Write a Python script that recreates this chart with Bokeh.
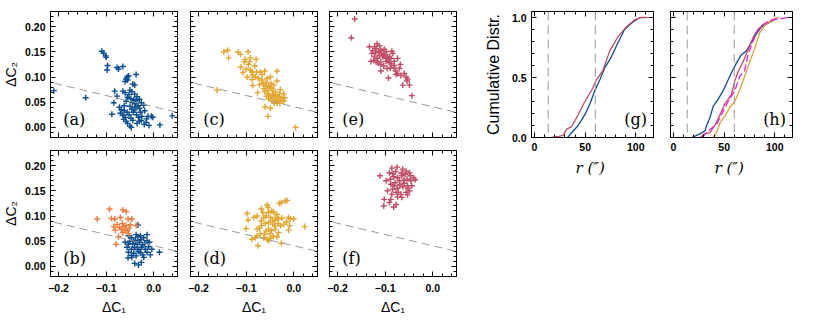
from bokeh.plotting import figure
from bokeh.models import (Range1d, LinearAxis, FixedTicker, CustomJSTickFormatter,
                          Slope, Span, Label)
from bokeh.layouts import row, column
from bokeh.embed import file_html
from bokeh.resources import INLINE

# ---------------- data ----------------
BLUE = "#0c4d8f"
GOLD = "#e2a52e"
PINK = "#c14d67"
ORANGE = "#f07b3b"
MAGENTA = "#ec1fe6"

a_x = [-0.210, -0.143, 0.013, 0.039,
       -0.109, -0.105, -0.101, -0.100, -0.097, -0.098, -0.077, -0.074, -0.065,
       -0.056, -0.053, -0.058, -0.060, -0.055, -0.037, -0.040, -0.044,
       -0.082, -0.077, -0.065, -0.060, -0.050, -0.046, -0.052, -0.040, -0.035, -0.055, -0.048, -0.042,
       -0.058, -0.045, -0.038, -0.084, -0.072, -0.062, -0.050, -0.040, -0.033, -0.021,
       -0.088, -0.070, -0.065, -0.060, -0.056, -0.052, -0.048, -0.043, -0.040, -0.036, -0.032, -0.028,
       -0.025, -0.019, -0.015, -0.012, -0.005, -0.002, -0.062, -0.068, -0.046, -0.030,
       -0.055, -0.050, -0.047, -0.035, -0.030, -0.020, -0.016, -0.010, -0.063, -0.058, -0.044, -0.026,
       -0.037, -0.030, -0.026]
a_y = [0.073, 0.059, 0.005, 0.023,
       0.151, 0.147, 0.142, 0.139, 0.123, 0.114, 0.119, 0.116, 0.121,
       0.100, 0.102, 0.096, 0.091, 0.094, 0.105, 0.084, 0.086,
       0.072, 0.062, 0.072, 0.069, 0.074, 0.071, 0.065, 0.066, 0.061, 0.060, 0.057, 0.055,
       0.052, 0.050, 0.047, 0.049, 0.040, 0.043, 0.042, 0.040, 0.043, 0.044,
       0.026, 0.028, 0.024, 0.020, 0.030, 0.025, 0.018, 0.030, 0.035, 0.025, 0.020, 0.030,
       0.022, 0.033, 0.017, 0.022, 0.022, 0.020, 0.033, 0.035, 0.036, 0.038,
       0.008, 0.003, 0.000, 0.008, 0.012, 0.006, 0.010, 0.004, 0.016, 0.012, 0.014, 0.014,
       0.053, 0.056, 0.049]

b_blue_x = [-0.033, -0.053, -0.046, -0.037, -0.033, -0.028, -0.021, -0.014, -0.060, -0.053, -0.042,
            -0.035, -0.030, -0.023, -0.014, -0.056, -0.047, -0.040, -0.033, -0.026, -0.018, -0.011,
            -0.004, 0.012, -0.053, -0.042, -0.032, -0.023, -0.014, -0.007, -0.054, -0.046, -0.040,
            -0.032, -0.026, -0.021, -0.037, -0.044, -0.038, -0.027, -0.050, -0.019, -0.009, -0.028, -0.047]
b_blue_y = [0.082, 0.061, 0.057, 0.063, 0.059, 0.061, 0.057, 0.063, 0.048, 0.044, 0.050,
            0.044, 0.048, 0.043, 0.051, 0.038, 0.034, 0.038, 0.034, 0.038, 0.034, 0.039,
            0.034, 0.028, 0.028, 0.026, 0.030, 0.023, 0.028, 0.023, 0.017, 0.018, 0.006,
            0.003, 0.008, 0.018, 0.021, 0.045, 0.052, 0.053, 0.050, 0.046, 0.048, 0.027, 0.022]
b_orange_x = [-0.119, -0.093, -0.065, -0.058, -0.089, -0.082, -0.070, -0.054, -0.046, -0.077, -0.072,
              -0.068, -0.063, -0.058, -0.049, -0.084, -0.081, -0.065, -0.056, -0.053, -0.074, -0.079,
              -0.037, -0.060, -0.066, -0.052]
b_orange_y = [0.094, 0.114, 0.112, 0.109, 0.095, 0.094, 0.097, 0.094, 0.094, 0.083, 0.077,
              0.074, 0.079, 0.081, 0.083, 0.079, 0.072, 0.067, 0.071, 0.065, 0.059, 0.044,
              0.081, 0.072, 0.085, 0.075]

c_x = [-0.161, 0.004, -0.147, -0.139, -0.137, -0.117, -0.112, -0.096, -0.102, -0.091, -0.093, -0.079,
       -0.111, -0.107, -0.091, -0.088, -0.098, -0.086, -0.081, -0.074, -0.061, -0.035, -0.067, -0.056,
       -0.049, -0.035, -0.086, -0.072, -0.060, -0.053, -0.063, -0.056, -0.046, -0.042, -0.076, -0.061,
       -0.053, -0.049, -0.044, -0.039, -0.032, -0.021, -0.019, -0.053, -0.046, -0.037, -0.028, -0.021,
       -0.060, -0.049, -0.035, -0.054, -0.065, -0.058, -0.043, -0.038, -0.030, -0.025, -0.041, -0.070,
       -0.082, -0.100, -0.048, -0.028, -0.050, -0.045, -0.034, -0.029, -0.057, -0.066, -0.078, -0.095,
       -0.104, -0.088]
c_y = [0.074, 0.000, 0.150, 0.153, 0.138, 0.149, 0.145, 0.150, 0.135, 0.138, 0.130, 0.135,
       0.120, 0.109, 0.114, 0.110, 0.100, 0.104, 0.100, 0.097, 0.112, 0.112, 0.094, 0.097,
       0.100, 0.092, 0.083, 0.085, 0.083, 0.081, 0.077, 0.074, 0.077, 0.084, 0.069, 0.071,
       0.067, 0.063, 0.065, 0.063, 0.061, 0.067, 0.059, 0.057, 0.054, 0.056, 0.054, 0.052,
       0.041, 0.038, 0.048, 0.022, 0.087, 0.089, 0.072, 0.070, 0.066, 0.058, 0.048, 0.110,
       0.122, 0.116, 0.087, 0.075, 0.079, 0.060, 0.052, 0.048, 0.062, 0.105, 0.110, 0.125,
       0.130, 0.095]

d_x = [-0.098, -0.096, -0.084, -0.077, -0.068, -0.065, -0.056, -0.054, -0.053, -0.046, -0.042, -0.037,
       -0.030, -0.026, -0.018, -0.014, -0.063, -0.058, -0.049, -0.039, -0.032, -0.025, -0.011, -0.007,
       0.000, -0.100, -0.077, -0.072, -0.068, -0.060, -0.053, -0.044, -0.033, -0.028, -0.021, -0.009,
       -0.011, 0.023, -0.077, -0.070, -0.061, -0.053, -0.047, -0.039, -0.032, -0.088, -0.081, -0.063,
       -0.056, -0.049, -0.035, -0.075, -0.053, -0.026, -0.045, -0.040, -0.050, -0.058, -0.035, -0.068,
       -0.015, -0.043]
d_y = [0.105, 0.092, 0.097, 0.100, 0.114, 0.107, 0.122, 0.117, 0.107, 0.110, 0.107, 0.097,
       0.125, 0.127, 0.130, 0.131, 0.097, 0.100, 0.097, 0.092, 0.094, 0.096, 0.097, 0.094,
       0.094, 0.075, 0.074, 0.076, 0.081, 0.085, 0.087, 0.084, 0.085, 0.081, 0.084, 0.081,
       0.072, 0.079, 0.061, 0.065, 0.064, 0.074, 0.071, 0.074, 0.067, 0.054, 0.057, 0.057,
       0.054, 0.056, 0.059, 0.041, 0.051, 0.046, 0.090, 0.080, 0.065, 0.070, 0.103, 0.090,
       0.088, 0.060]

e_x = [-0.164, -0.171, -0.133, -0.117, -0.119, -0.112, -0.109, -0.102, -0.098, -0.086, -0.084, -0.128,
       -0.123, -0.116, -0.105, -0.098, -0.091, -0.088, -0.130, -0.119, -0.109, -0.098, -0.081, -0.074,
       -0.124, -0.112, -0.103, -0.091, -0.081, -0.109, -0.096, -0.081, -0.070, -0.093, -0.077, -0.074,
       -0.060, -0.056, -0.053, -0.054, -0.063, -0.049, -0.044, -0.126, -0.120, -0.114, -0.107, -0.100,
       -0.094, -0.087, -0.110, -0.103, -0.095, -0.115, -0.122, -0.068, -0.078, -0.089, -0.067]
e_y = [0.215, 0.178, 0.160, 0.166, 0.156, 0.162, 0.153, 0.155, 0.150, 0.151, 0.147, 0.147,
       0.140, 0.137, 0.140, 0.137, 0.140, 0.137, 0.131, 0.130, 0.130, 0.131, 0.131, 0.137,
       0.133, 0.143, 0.143, 0.129, 0.123, 0.112, 0.117, 0.118, 0.117, 0.098, 0.105, 0.107,
       0.107, 0.100, 0.096, 0.092, 0.084, 0.084, 0.063, 0.152, 0.148, 0.150, 0.147, 0.144,
       0.133, 0.126, 0.125, 0.122, 0.140, 0.128, 0.160, 0.125, 0.112, 0.118, 0.103]

f_x = [-0.111, -0.086, -0.075, -0.063, -0.056, -0.049, -0.098, -0.089, -0.082, -0.074, -0.065, -0.058,
       -0.047, -0.040, -0.091, -0.084, -0.088, -0.079, -0.070, -0.061, -0.054, -0.046, -0.037, -0.095,
       -0.084, -0.074, -0.063, -0.053, -0.044, -0.086, -0.077, -0.067, -0.056, -0.049, -0.102, -0.088,
       -0.074, -0.065, -0.053, -0.103, -0.091, -0.082, -0.077, -0.069, -0.060, -0.081, -0.052, -0.072,
       -0.066, -0.078]
f_y = [0.180, 0.195, 0.197, 0.193, 0.189, 0.186, 0.170, 0.173, 0.178, 0.176, 0.180, 0.183,
       0.180, 0.176, 0.186, 0.184, 0.163, 0.166, 0.170, 0.171, 0.173, 0.170, 0.172, 0.150,
       0.153, 0.155, 0.158, 0.160, 0.160, 0.143, 0.147, 0.143, 0.147, 0.150, 0.133, 0.133,
       0.138, 0.137, 0.142, 0.120, 0.127, 0.118, 0.123, 0.162, 0.165, 0.160, 0.155, 0.147,
       0.185, 0.188]

# dividing line in the colour-colour planes
DIVIDER_GRADIENT = -0.223
DIVIDER_INTERCEPT = 0.041

# cumulative radial distributions
g_red_r = [17, 24, 28.4, 31.7, 36.6, 43.1, 49.7, 56.2, 61.1, 67.6, 74.2, 82.4, 90.5, 98.7, 105.2, 111.8]
g_red_f = [0, 0.01, 0.02, 0.07, 0.09, 0.19, 0.30, 0.39, 0.48, 0.56, 0.72, 0.84, 0.92, 0.98, 1.0, 1.0]
g_blue_r = [32.7, 36.6, 43.1, 49.7, 54.6, 59.5, 64.4, 69.3, 75.8, 82.4, 88.9, 95.4, 102, 105]
g_blue_f = [0, 0.04, 0.10, 0.19, 0.28, 0.39, 0.48, 0.58, 0.67, 0.79, 0.90, 0.95, 0.99, 1.0]

h_blue_r = [18, 26.1, 31, 32.7, 35.9, 39.2, 44.1, 49, 52.3, 57.2, 62.1, 67, 71.9, 75.2, 80.1, 86.6, 94.8, 101]
h_blue_f = [0, 0.03, 0.055, 0.10, 0.165, 0.26, 0.32, 0.39, 0.45, 0.54, 0.62, 0.69, 0.72, 0.77, 0.84, 0.92, 0.96, 0.99]
h_red_r = [26.1, 31, 35.9, 40.8, 45.8, 50.7, 57.2, 60.5, 63.7, 68.6, 73.5, 78.4, 81.7, 88.2, 94.8, 101]
h_red_f = [0, 0.03, 0.04, 0.10, 0.19, 0.28, 0.36, 0.47, 0.55, 0.63, 0.73, 0.83, 0.88, 0.94, 0.96, 0.99]
h_gold_r = [39.2, 42.5, 45.8, 50.7, 55.6, 60.5, 65.4, 70.3, 75.2, 80.1, 85, 91.5, 99.7, 104]
h_gold_f = [0, 0.04, 0.12, 0.18, 0.25, 0.30, 0.40, 0.51, 0.63, 0.74, 0.87, 0.95, 0.99, 1.0]
h_mag_r = [27.8, 34.3, 42.5, 49, 53.9, 60.5, 65.4, 70.3, 73.5, 78.4, 83.3, 89.9, 96.4, 112.7]
h_mag_f = [0, 0.055, 0.11, 0.22, 0.30, 0.39, 0.51, 0.56, 0.69, 0.80, 0.90, 0.95, 0.98, 1.0]

CORE_RADII = [13.5, 60.0]

SC_X_TICKS = [-0.2, -0.1, 0.0]
SC_X_MINOR = [-0.22, -0.20, -0.18, -0.16, -0.14, -0.12, -0.10, -0.08, -0.06, -0.04, -0.02, 0.0, 0.02, 0.04]
SC_Y_TICKS = [0.0, 0.05, 0.10, 0.15, 0.20]
SC_Y_MINOR = [-0.01, 0.0, 0.01, 0.02, 0.03, 0.04, 0.05, 0.06, 0.07, 0.08, 0.09, 0.10, 0.11, 0.12,
              0.13, 0.14, 0.15, 0.16, 0.17, 0.18, 0.19, 0.20, 0.21, 0.22]
CD_X_TICKS = [0, 50, 100]
CD_X_MINOR = [0, 10, 20, 30, 40, 50, 60, 70, 80, 90, 100, 110]
CD_Y_TICKS = [0.0, 0.5, 1.0]
CD_Y_MINOR = [0.0, 0.1, 0.2, 0.3, 0.4, 0.5, 0.6, 0.7, 0.8, 0.9, 1.0]

# ---------------- styling helpers ----------------
TICK_FONT = "Liberation Sans"
LABEL_FONT = "Liberation Sans"
SERIF = "DejaVu Serif"

FMT_1 = CustomJSTickFormatter(code="return tick.toFixed(1).replace('-', '\u2212');")
FMT_2 = CustomJSTickFormatter(code="return tick.toFixed(2).replace('-', '\u2212');")
FMT_0 = CustomJSTickFormatter(code="return tick.toFixed(0);")
FMT_NONE = CustomJSTickFormatter(code="return '';")


def add_axis(p, side, ticks, minor, fmt, label=None, label_font_style="normal",
             label_font=LABEL_FONT, label_size="14px", label_standoff=3, tick_standoff=5):
    ax = LinearAxis(ticker=FixedTicker(ticks=ticks, minor_ticks=minor), formatter=fmt or FMT_NONE)
    ax.major_tick_in = 5
    ax.major_tick_out = 0
    ax.minor_tick_in = 3
    ax.minor_tick_out = 0
    ax.axis_line_color = "black"
    ax.axis_line_width = 1
    ax.major_tick_line_color = "black"
    ax.minor_tick_line_color = "black"
    ax.major_label_text_font = TICK_FONT
    ax.major_label_text_font_size = "10.5px"
    ax.major_label_text_font_style = "bold"
    ax.major_label_text_color = "black"
    ax.major_label_standoff = tick_standoff if fmt is not None else 0
    if label:
        ax.axis_label = label
        ax.axis_label_text_font = label_font
        ax.axis_label_text_font_size = label_size
        ax.axis_label_text_font_style = label_font_style
        ax.axis_label_text_color = "black"
        ax.axis_label_standoff = label_standoff
    p.add_layout(ax, side)
    return ax


def make_fig(xr, yr, fw, fh, bl, br, bt, bb):
    p = figure(x_range=Range1d(*xr), y_range=Range1d(*yr), frame_width=fw, frame_height=fh,
               min_border_left=bl, min_border_right=br, min_border_top=bt, min_border_bottom=bb,
               output_backend="svg", toolbar_location=None,
               x_axis_location=None, y_axis_location=None)
    p.outline_line_color = "black"
    p.outline_line_width = 1
    p.background_fill_color = "white"
    p.border_fill_color = "white"
    for g in p.grid:
        g.visible = False
    return p


SC_XR = (-0.217, 0.05)
SC_YR = (-0.02, 0.23)
CD_XR = (-3, 117.5)
CD_YR = (0, 1.05)
FW, FH = 127, 126
TOP_PAD = 11


def scatter_panel(bl, br, bt, bb, series, tag, y_labels, x_labels):
    p = make_fig(SC_XR, SC_YR, FW, FH, bl, br, bt, bb)
    add_axis(p, "left", SC_Y_TICKS, SC_Y_MINOR, FMT_2 if y_labels else None,
             label="\u0394C\u2082" if y_labels else None, label_standoff=3, tick_standoff=5)
    add_axis(p, "right", SC_Y_TICKS, SC_Y_MINOR, None)
    add_axis(p, "below", SC_X_TICKS, SC_X_MINOR, FMT_1 if x_labels else None,
             label="\u0394C\u2081" if x_labels else None, label_standoff=4, tick_standoff=7)
    add_axis(p, "above", SC_X_TICKS, SC_X_MINOR, None)
    p.add_layout(Slope(gradient=DIVIDER_GRADIENT, y_intercept=DIVIDER_INTERCEPT,
                       line_color="#9a9a9a", line_dash="8 5", line_width=1))
    for xs, ys, col in series:
        p.scatter(xs, ys, marker="cross", size=6, line_color=col, line_width=1.4)
    p.add_layout(Label(x=-0.19, y=-0.004, text=tag, text_font=SERIF, text_font_size="16px",
                       text_baseline="bottom", text_align="left", text_color="black"))
    return p


pa = scatter_panel(44, 6, TOP_PAD, 6, [(a_x, a_y, BLUE)], "(a)", True, False)
pc = scatter_panel(7, 6, TOP_PAD, 6, [(c_x, c_y, GOLD)], "(c)", False, False)
pe = scatter_panel(6, 5, TOP_PAD, 6, [(e_x, e_y, PINK)], "(e)", False, False)
pb = scatter_panel(44, 6, 7, 42, [(b_blue_x, b_blue_y, BLUE), (b_orange_x, b_orange_y, ORANGE)],
                   "(b)", True, True)
pd = scatter_panel(7, 6, 7, 42, [(d_x, d_y, GOLD)], "(d)", False, True)
pf = scatter_panel(6, 5, 7, 42, [(f_x, f_y, PINK)], "(f)", False, True)


def cdf_panel(bl, br, tag, y_labels, curves):
    p = make_fig(CD_XR, CD_YR, 122, FH, bl, br, TOP_PAD, 45)
    add_axis(p, "left", CD_Y_TICKS, CD_Y_MINOR, FMT_1 if y_labels else None,
             label="Cumulative Distr." if y_labels else None, label_size="16px", label_standoff=7)
    add_axis(p, "right", CD_Y_TICKS, CD_Y_MINOR, None)
    add_axis(p, "below", CD_X_TICKS, CD_X_MINOR, FMT_0, label="r  (\u2033)",
             label_font=SERIF, label_size="15px", label_font_style="italic", label_standoff=5)
    add_axis(p, "above", CD_X_TICKS, CD_X_MINOR, None)
    for loc in CORE_RADII:
        p.add_layout(Span(location=loc, dimension="height", line_color="#9a9a9a",
                          line_dash="9 5", line_width=1))
    for rs, fs, col, dash in curves:
        p.line(rs, fs, line_color=col, line_width=1.3, line_dash=dash)
    p.add_layout(Label(x=111, y=0.07, text=tag, text_font=SERIF, text_font_size="16px",
                       text_baseline="bottom", text_align="right", text_color="black"))
    return p


pg = cdf_panel(70, 8, "(g)", True, [(g_blue_r, g_blue_f, BLUE, "solid"),
                                     (g_red_r, g_red_f, PINK, "solid")])
ph = cdf_panel(9, 10, "(h)", False, [(h_blue_r, h_blue_f, BLUE, "solid"),
                                      (h_red_r, h_red_f, PINK, "solid"),
                                      (h_gold_r, h_gold_f, GOLD, "solid"),
                                      (h_mag_r, h_mag_f, MAGENTA, "7 3")])

left = column(row(pa, pc, pe), row(pb, pd, pf))
layout = row(left, pg, ph)

open("out.html", "w").write(file_html(layout, INLINE))
